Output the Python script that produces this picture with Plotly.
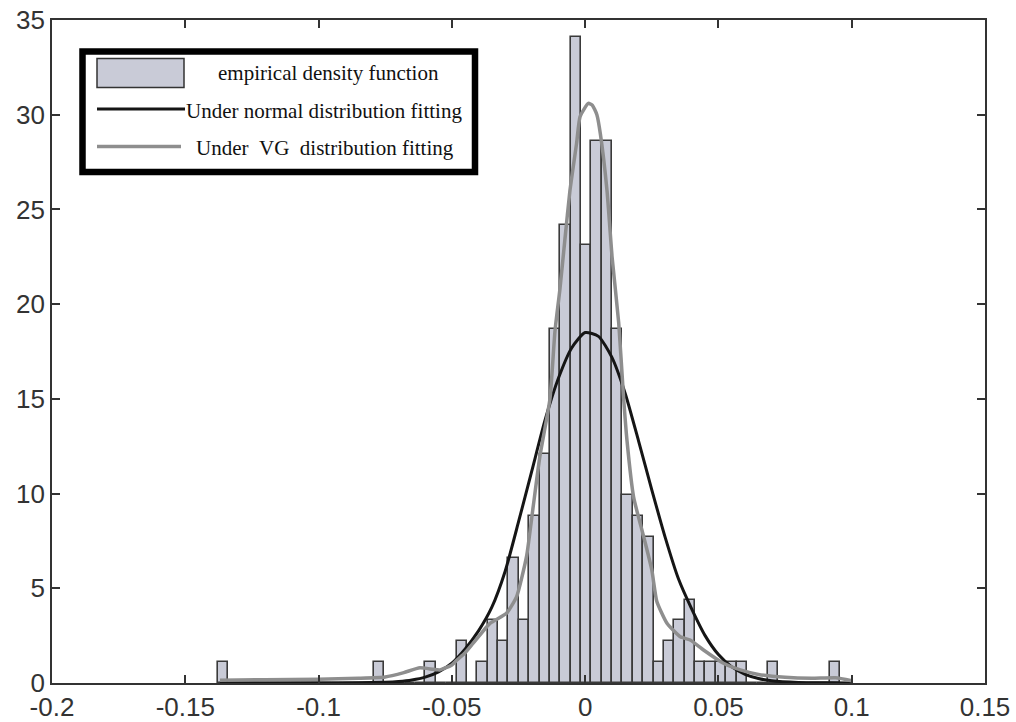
import plotly.graph_objects as go

# ---------------- data ----------------
bin_start = -0.1377
bin_width = 0.00389
density = [1.1, 0, 0, 0, 0, 0, 0, 0, 0, 0,
           0, 0, 0, 0, 0, 1.1, 0, 0, 0, 0,
           1.1, 0, 0, 2.2, 0, 1.1, 3.3, 2.2, 6.6, 3.3,
           8.8, 12.1, 18.7, 24.2, 34.1, 23.1, 28.6, 28.6, 18.7, 9.9,
           8.8, 7.7, 1.1, 2.2, 3.3, 4.4, 1.1, 1.1, 1.1, 1.1,
           1.1, 0, 0, 1.1, 0, 0, 0, 0, 0, 1.1]

normal_x = [-0.137, -0.12, -0.1, -0.085, -0.075, -0.07, -0.065, -0.06, -0.055, -0.05,
            -0.045, -0.04, -0.035, -0.03, -0.025, -0.02, -0.015, -0.01, -0.005, 0.0,
            0.005, 0.01, 0.015, 0.02, 0.025, 0.03, 0.035, 0.04, 0.045, 0.05,
            0.055, 0.06, 0.065, 0.07, 0.08, 0.09, 0.1]
normal_y = [0.0, 0.0, 0.0, 0.01, 0.04, 0.08, 0.16, 0.31, 0.59, 1.05,
            1.8, 2.75, 4.0, 5.9, 8.5, 11.2, 13.9, 16.1, 17.7, 18.5,
            18.3, 17.2, 15.3, 12.8, 10.2, 7.7, 5.5, 3.9, 2.5, 1.5,
            0.85, 0.46, 0.24, 0.12, 0.03, 0.01, 0.0]

vg_x = [-0.137, -0.12, -0.1, -0.085, -0.075, -0.068, -0.062, -0.057, -0.0545, -0.05,
        -0.0482, -0.045, -0.042, -0.0357, -0.0295, -0.0257, -0.022, -0.0195, -0.017, -0.0132,
        -0.0113, -0.0095, -0.0076, -0.0057, -0.0032, -0.0019, 0.0012, 0.0027, 0.0044, 0.0057,
        0.0082, 0.0101, 0.0126, 0.0144, 0.0157, 0.0182, 0.022, 0.025, 0.0269, 0.0307,
        0.0357, 0.0394, 0.0444, 0.0519, 0.0582, 0.065, 0.075, 0.085, 0.094, 0.1]
vg_y = [0.15, 0.17, 0.2, 0.25, 0.32, 0.55, 0.8, 0.72, 0.69, 0.95,
        1.2, 1.6, 2.1, 3.15, 3.68, 4.56, 6.67, 9.3, 11.95, 15.0,
        18.6, 20.75, 23.4, 26.0, 28.5, 29.9, 30.6, 30.5, 30.0, 29.0,
        26.0, 22.5, 19.0, 15.1, 12.8, 9.8, 7.7, 5.97, 4.3, 3.15,
        2.44, 2.27, 1.74, 1.04, 0.69, 0.45, 0.3, 0.25, 0.28, 0.12]

x_tick_vals = [-0.2, -0.15, -0.1, -0.05, 0, 0.05, 0.1, 0.15]
x_tick_text = ["-0.2", "-0.15", "-0.1", "-0.05", "0", "0.05", "0.1", "0.15"]
y_tick_vals = [0, 5, 10, 15, 20, 25, 30, 35]
y_tick_text = ["0", "5", "10", "15", "20", "25", "30", "35"]

legend_labels = ["empirical density function",
                 "Under normal distribution fitting",
                 "Under  VG  distribution fitting"]

# ---------------- figure ----------------
W, H = 1016, 722
ML, MR, MT, MB = 52, 31, 20, 39
PW, PH = W - ML - MR, H - MT - MB

def px(xp):
    return (xp - ML) / PW

def py(yp):
    return (H - MB - yp) / PH

bar_x = [bin_start + (i + 0.5) * bin_width for i in range(len(density))]

BAR_FILL = "#c9cbd7"
BAR_LINE = "#3a3a3a"
NORMAL_C = "#151515"
VG_C = "#8e8e8e"

fig = go.Figure()
fig.add_trace(go.Bar(x=bar_x, y=density, width=bin_width,
                     marker=dict(color=BAR_FILL, line=dict(color=BAR_LINE, width=1.6)),
                     name=legend_labels[0], showlegend=False))
fig.add_trace(go.Scatter(x=normal_x, y=normal_y, mode="lines",
                         line=dict(color=NORMAL_C, width=3, shape="spline", smoothing=0.6),
                         name=legend_labels[1], showlegend=False))
fig.add_trace(go.Scatter(x=vg_x, y=vg_y, mode="lines",
                         line=dict(color=VG_C, width=3.5, shape="spline", smoothing=0.5),
                         name=legend_labels[2], showlegend=False))

axis_common = dict(showline=True, linecolor="#333333", linewidth=1.8, mirror="ticks",
                   ticks="inside", ticklen=8, tickcolor="#333333", tickwidth=1.5,
                   showgrid=False, zeroline=False, automargin=False,
                   tickfont=dict(family="Liberation Sans, Arial, sans-serif", size=26, color="#333333"))

fig.update_xaxes(range=[-0.2, 0.15], tickvals=x_tick_vals, ticktext=x_tick_text, **axis_common)
fig.update_yaxes(range=[0, 35], tickvals=y_tick_vals, ticktext=y_tick_text, **axis_common)

# manual legend box (MATLAB style)
shapes = [
    dict(type="rect", xref="paper", yref="paper",
         x0=px(82.5), x1=px(475), y0=py(51.5), y1=py(172),
         line=dict(color="#000000", width=6.5), fillcolor="#ffffff", layer="above"),
    dict(type="rect", xref="paper", yref="paper",
         x0=px(97), x1=px(184), y0=py(58.5), y1=py(87.5),
         line=dict(color="#333333", width=1.5), fillcolor=BAR_FILL, layer="above"),
    dict(type="line", xref="paper", yref="paper",
         x0=px(97), x1=px(185), y0=py(109), y1=py(109),
         line=dict(color=NORMAL_C, width=3), layer="above"),
    dict(type="line", xref="paper", yref="paper",
         x0=px(97), x1=px(181), y0=py(146.5), y1=py(146.5),
         line=dict(color=VG_C, width=3.5), layer="above"),
]
leg_font = dict(family="Liberation Serif, Times New Roman, serif", size=21, color="#111111")
annotations = [
    dict(text=legend_labels[0], xref="paper", yref="paper", x=px(328), y=py(73),
         xanchor="center", yanchor="middle", showarrow=False, font=leg_font),
    dict(text=legend_labels[1], xref="paper", yref="paper", x=px(324), y=py(111),
         xanchor="center", yanchor="middle", showarrow=False, font=leg_font),
    dict(text=legend_labels[2].replace("  ", "&nbsp;&nbsp;"), xref="paper", yref="paper",
         x=px(325), y=py(148), xanchor="center", yanchor="middle", showarrow=False, font=leg_font),
]

fig.update_layout(width=W, height=H, margin=dict(l=ML, r=MR, t=MT, b=MB, pad=0),
                  paper_bgcolor="#ffffff", plot_bgcolor="#ffffff",
                  bargap=0, showlegend=False, shapes=shapes, annotations=annotations)

fig.write_html("out.html", config={"displayModeBar": False},
               post_script="document.body.style.margin='0';document.body.style.padding='0';"
                           "document.body.style.overflow='hidden';")
